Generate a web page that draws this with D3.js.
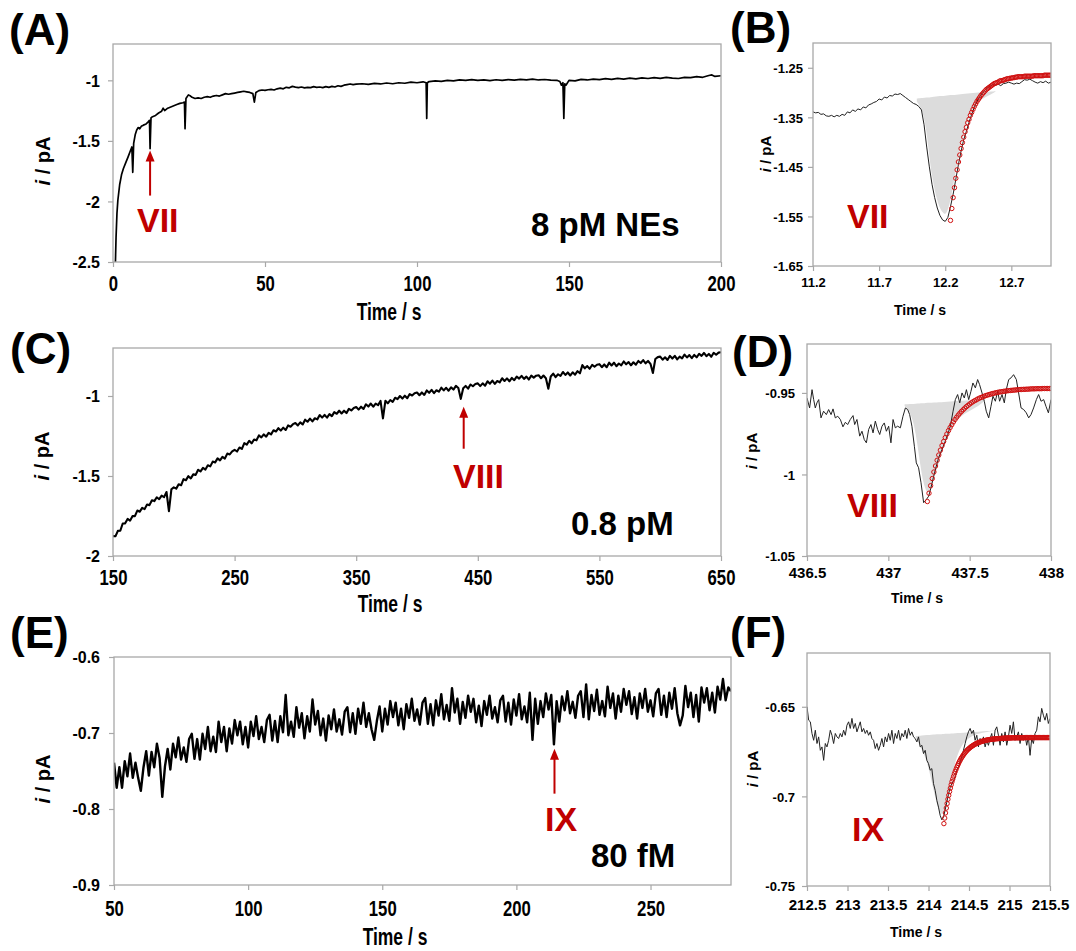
<!DOCTYPE html>
<html>
<head>
<meta charset="utf-8">
<script src="https://cdn.jsdelivr.net/npm/d3@7/dist/d3.min.js"></script>
<style>
  body { margin: 0; background: #fff; }
  svg text { font-family: "Liberation Sans", Arial, sans-serif; font-weight: bold; }
</style>
</head>
<body>
<svg id="fig" width="1076" height="951"></svg>
<script>

// ---- data (current in pA, time in s) ----

// (A) 8 pM NEs, full trace
var traceA = [[0.8,-2.5],[1.0,-2.3],[1.3,-2.1],[1.6,-1.99],[2.2,-1.86],[2.8,-1.78],[3.4,-1.73],[4.2,-1.68],[5.0,-1.63],[5.6,-1.59],
  [6.2,-1.55],[6.5,-1.76],[6.8,-1.52],[7.3,-1.45],[7.8,-1.41],[8.3,-1.39],[8.8,-1.40],[9.3,-1.38],[10,-1.37],[10.9,-1.36],
  [11.5,-1.345],[12.0,-1.33],[12.2,-1.565],[12.5,-1.31],[13,-1.30],[14,-1.29],[15,-1.27],[16,-1.255],[16.5,-1.23],[17,-1.25],
  [18,-1.23],[19,-1.22],[20,-1.21],[21,-1.20],[22,-1.19],[23,-1.185],[23.5,-1.18],[23.7,-1.40],[24,-1.15],[24.8,-1.12],
  [25.5,-1.13],[26,-1.14],[27,-1.15],[28,-1.145],[29,-1.15],[30,-1.14],[31,-1.135],[32,-1.14],[33,-1.13],[34,-1.125],
  [35,-1.13],[36,-1.12],[37,-1.11],[38,-1.115],[39,-1.11],[40,-1.105],[41,-1.10],[42,-1.095],[43,-1.09],[44,-1.095],
  [45,-1.10],[46,-1.11],[46.5,-1.18],[47,-1.10],[48,-1.085],[49,-1.08],[50,-1.083],[51,-1.078],[52,-1.075],[53,-1.08],
  [54,-1.07],[55,-1.065],[56,-1.07],[57,-1.058],[58,-1.062],[59,-1.05],[60,-1.056],[61,-1.06],[62,-1.055],[63,-1.062],
  [64,-1.058],[65,-1.06],[66,-1.052],[67,-1.058],[68,-1.055],[69,-1.06],[70,-1.052],[71,-1.058],[72,-1.05],[73,-1.055],
  [74,-1.045],[75,-1.05],[76,-1.04],[77,-1.035],[78,-1.03],[79,-1.036],[80,-1.032],[82,-1.028],[84,-1.034],[86,-1.025],
  [88,-1.03],[90,-1.022],[92,-1.028],[94,-1.02],[96,-1.024],[98,-1.015],[100,-1.02],[102,-1.012],[103,-1.02],[103.2,-1.315],
  [103.4,-1.02],[104,-1.01],[106,-1.004],[108,-1.008],[110,-1.0],[112,-1.004],[114,-0.996],[116,-1.0],[118,-0.994],[120,-1.0],
  [122,-0.996],[124,-1.002],[126,-0.995],[128,-1.0],[130,-0.994],[132,-0.998],[134,-0.992],[136,-0.996],[138,-0.99],[140,-0.997],
  [142,-0.993],[144,-0.998],[146,-1.0],[147,-1.01],[147.5,-1.04],[148,-1.02],[148.3,-1.315],[148.6,-1.03],[149,-1.04],[150,-1.0],
  [152,-1.004],[154,-0.992],[156,-0.997],[158,-0.99],[160,-0.994],[162,-0.986],[164,-0.992],[166,-0.984],[168,-0.99],[170,-0.982],
  [172,-0.988],[174,-0.98],[176,-0.985],[178,-0.978],[180,-0.984],[182,-0.976],[184,-0.982],[186,-0.985],[188,-0.975],[190,-0.978],
  [192,-0.97],[194,-0.975],[196,-0.96],[197,-0.955],[198,-0.968],[200,-0.962]];

// (B) zoom on event VII
var traceB = [[11.20,-1.339],[11.22,-1.341],[11.24,-1.340],[11.26,-1.344],[11.28,-1.343],[11.30,-1.347],[11.32,-1.348],[11.34,-1.346],
  [11.36,-1.349],[11.38,-1.346],[11.40,-1.348],[11.42,-1.344],[11.44,-1.346],[11.46,-1.339],[11.48,-1.341],[11.50,-1.335],
  [11.52,-1.338],[11.54,-1.333],[11.56,-1.335],[11.58,-1.329],[11.60,-1.331],[11.62,-1.325],[11.64,-1.323],[11.66,-1.320],
  [11.68,-1.318],[11.70,-1.313],[11.72,-1.315],[11.74,-1.309],[11.76,-1.311],[11.78,-1.306],[11.80,-1.307],[11.82,-1.303],
  [11.84,-1.304],[11.86,-1.302],[11.88,-1.306],[11.90,-1.310],[11.92,-1.314],[11.94,-1.318],[11.96,-1.322],[11.98,-1.324],
  [12.00,-1.328],[12.02,-1.335],[12.04,-1.365],[12.06,-1.410],[12.08,-1.450],[12.10,-1.485],[12.12,-1.512],[12.14,-1.533],
  [12.16,-1.548],[12.18,-1.557],[12.20,-1.560],[12.22,-1.552],[12.24,-1.530],[12.26,-1.505],[12.28,-1.475],[12.30,-1.445],
  [12.32,-1.418],[12.34,-1.395],[12.36,-1.378],[12.38,-1.360],[12.40,-1.344],[12.42,-1.330],[12.44,-1.318],[12.46,-1.309],
  [12.48,-1.301],[12.50,-1.296],[12.52,-1.290],[12.54,-1.287],[12.56,-1.284],[12.58,-1.285],[12.60,-1.283],[12.62,-1.286],
  [12.64,-1.282],[12.66,-1.281],[12.68,-1.279],[12.70,-1.281],[12.72,-1.283],[12.74,-1.281],[12.76,-1.282],[12.78,-1.278],
  [12.80,-1.274],[12.82,-1.275],[12.84,-1.273],[12.86,-1.276],[12.88,-1.279],[12.90,-1.281],[12.92,-1.278],[12.94,-1.280],
  [12.96,-1.277],[12.98,-1.281],[13.00,-1.279]];
// shaded peak: [t, upper, lower]
var shadeB = [[11.985,-1.312,-1.318],[12.03,-1.311,-1.335],[12.06,-1.310,-1.38],[12.08,-1.310,-1.43],[12.10,-1.309,-1.47],
  [12.13,-1.308,-1.51],[12.16,-1.307,-1.535],[12.19,-1.307,-1.545],[12.21,-1.306,-1.545],[12.24,-1.305,-1.52],[12.27,-1.305,-1.47],
  [12.30,-1.304,-1.43],[12.33,-1.303,-1.39],[12.37,-1.302,-1.355],[12.41,-1.301,-1.33],[12.45,-1.300,-1.318],[12.50,-1.299,-1.31],
  [12.55,-1.298,-1.303],[12.58,-1.297,-1.298]];
// fitted decay, sampled every 0.01 s from 12.24 s
var fitBStart = 12.24, fitBStep = 0.01;
var fitB = [-1.558,-1.534,-1.512,-1.492,-1.473,-1.456,-1.440,-1.426,-1.413,-1.401,
  -1.390,-1.379,-1.370,-1.361,-1.354,-1.346,-1.340,-1.334,-1.328,-1.323,
  -1.318,-1.314,-1.310,-1.306,-1.303,-1.300,-1.297,-1.294,-1.292,-1.290,
  -1.288,-1.286,-1.284,-1.282,-1.281,-1.280,-1.279,-1.277,-1.276,-1.276,
  -1.275,-1.274,-1.273,-1.272,-1.272,-1.271,-1.271,-1.270,-1.270,-1.269,
  -1.269,-1.268,-1.268,-1.268,-1.268,-1.268,-1.267,-1.267,-1.267,-1.267,
  -1.267,-1.267,-1.267,-1.266,-1.266,-1.266,-1.266,-1.266,-1.266,-1.266,
  -1.266,-1.265,-1.265,-1.265,-1.265,-1.265,-1.265];

// (C) 0.8 pM, sampled every 2 s from 150 s
var traceCStart = 150, traceCStep = 2;
var traceC = [-1.876,-1.877,-1.843,-1.842,-1.797, -1.796,-1.768,-1.779,-1.751,-1.751,
  -1.716,-1.723,-1.699,-1.707,-1.678, -1.682,-1.652,-1.657,-1.633,-1.645,
  -1.623,-1.632,-1.600,-1.720,-1.583, -1.571,-1.579,-1.552,-1.558,-1.520,
  -1.526,-1.501,-1.515,-1.490,-1.493, -1.461,-1.471,-1.449,-1.460,-1.433,
  -1.440,-1.410,-1.415,-1.390,-1.402, -1.380,-1.391,-1.360,-1.365,-1.346,
  -1.336,-1.347,-1.322,-1.331,-1.295, -1.304,-1.280,-1.296,-1.272,-1.277,
  -1.246,-1.259,-1.240,-1.254,-1.230, -1.240,-1.214,-1.222,-1.201,-1.216,
  -1.198,-1.212,-1.184,-1.192,-1.176, -1.169,-1.184,-1.165,-1.178,-1.148,
  -1.161,-1.141,-1.159,-1.139,-1.146, -1.119,-1.135,-1.118,-1.135,-1.113,
  -1.126,-1.101,-1.111,-1.092,-1.109, -1.092,-1.107,-1.080,-1.090,-1.075,
  -1.069,-1.085,-1.067,-1.081,-1.052, -1.066,-1.047,-1.067,-1.048,-1.057,
  -1.031,-1.140,-1.030,-1.046,-1.025, -1.037,-1.011,-1.020,-1.000,-1.016,
  -0.998,-1.014,-0.988,-0.997,-0.983, -0.978,-0.995,-0.978,-0.993,-0.965,
  -0.980,-0.962,-0.982,-0.964,-0.973, -0.948,-0.965,-0.949,-0.967,-0.946,
  -0.960,-0.937,-0.950,-1.018,-0.952, -0.937,-0.954,-0.928,-0.939,-0.925,
  -0.921,-0.938,-0.921,-0.936,-0.908, -0.923,-0.904,-0.924,-0.906,-0.915,
  -0.889,-0.906,-0.890,-0.908,-0.887, -0.901,-0.879,-0.891,-0.874,-0.893,
  -0.879,-0.897,-0.873,-0.885,-0.873, -0.870,-0.889,-0.872,-0.889,-0.955,
  -0.878,-0.860,-0.882,-0.864,-0.875, -0.850,-0.868,-0.853,-0.872,-0.852,
  -0.867,-0.845,-0.858,-0.807,-0.827, -0.813,-0.830,-0.806,-0.817,-0.805,
  -0.801,-0.820,-0.803,-0.820,-0.792, -0.809,-0.792,-0.814,-0.797,-0.808,
  -0.784,-0.802,-0.788,-0.808,-0.789, -0.804,-0.781,-0.794,-0.776,-0.796,
  -0.781,-0.799,-0.856,-0.769,-0.757, -0.754,-0.773,-0.758,-0.775,-0.749,
  -0.766,-0.749,-0.771,-0.754,-0.765, -0.741,-0.759,-0.744,-0.763,-0.743,
  -0.758,-0.736,-0.749,-0.731,-0.751, -0.737,-0.755,-0.730,-0.742,-0.729,
  -0.726];

// (D) zoom on event VIII
var traceD = [[436.500,-0.9531],[436.516,-0.9592],[436.531,-0.9480],[436.541,-0.9541],[436.551,-0.9592],[436.561,-0.9561],
  [436.572,-0.9541],[436.586,-0.9653],[436.602,-0.9612],[436.619,-0.9633],[436.633,-0.9602],[436.648,-0.9633],[436.660,-0.9598],
  [436.674,-0.9653],[436.689,-0.9643],[436.705,-0.9663],[436.721,-0.9708],[436.736,-0.9680],[436.750,-0.9694],[436.766,-0.9663],
  [436.783,-0.9639],[436.793,-0.9694],[436.807,-0.9663],[436.824,-0.9765],[436.838,-0.9735],[436.852,-0.9786],[436.865,-0.9806],
  [436.879,-0.9724],[436.893,-0.9694],[436.906,-0.9745],[436.920,-0.9673],[436.934,-0.9724],[436.947,-0.9755],[436.961,-0.9704],
  [436.975,-0.9684],[436.988,-0.9735],[437.002,-0.9704],[437.016,-0.9806],[437.029,-0.9663],[437.043,-0.9714],[437.057,-0.9704],
  [437.074,-0.9714],[437.090,-0.9643],[437.105,-0.9592],[437.119,-0.9602],[437.131,-0.9633],[437.145,-0.9704],[437.160,-0.9827],
  [437.172,-0.9929],[437.186,-0.9959],[437.201,-1.0051],[437.217,-1.0173],[437.234,-1.0153],[437.248,-1.0133],[437.262,-1.0082],
  [437.279,-1.0010],[437.295,-0.9949],[437.309,-0.9898],[437.330,-0.9847],[437.350,-0.9796],[437.365,-0.9755],[437.381,-0.9704],
  [437.398,-0.9612],[437.412,-0.9541],[437.426,-0.9510],[437.439,-0.9561],[437.453,-0.9500],[437.467,-0.9531],[437.480,-0.9480],
  [437.494,-0.9541],[437.508,-0.9490],[437.520,-0.9439],[437.535,-0.9469],[437.549,-0.9418],[437.561,-0.9449],[437.576,-0.9500],
  [437.590,-0.9551],[437.602,-0.9612],[437.617,-0.9653],[437.631,-0.9582],[437.643,-0.9520],[437.658,-0.9551],[437.672,-0.9490],
  [437.684,-0.9551],[437.699,-0.9510],[437.713,-0.9561],[437.725,-0.9480],[437.740,-0.9418],[437.754,-0.9408],[437.770,-0.9388],
  [437.787,-0.9418],[437.801,-0.9500],[437.816,-0.9592],[437.832,-0.9602],[437.848,-0.9622],[437.863,-0.9653],[437.877,-0.9633],
  [437.893,-0.9592],[437.910,-0.9541],[437.924,-0.9510],[437.939,-0.9551],[437.955,-0.9541],[437.969,-0.9582],[437.984,-0.9622],
  [438.000,-0.9541]];
var shadeD = [[437.10,-0.9570,-0.958],[437.14,-0.9568,-0.962],[437.17,-0.9566,-0.975],[437.19,-0.9565,-0.990],
  [437.21,-0.9564,-1.003],[437.23,-0.9562,-1.010],[437.25,-0.9561,-1.012],[437.28,-0.9559,-1.003],[437.31,-0.9557,-0.993],
  [437.34,-0.9555,-0.983],[437.38,-0.9553,-0.973],[437.42,-0.9550,-0.966],[437.48,-0.9547,-0.962],[437.54,-0.9544,-0.959],
  [437.59,-0.9540,-0.955]];
var fitDStart = 437.24, fitDStep = 0.01;
var fitD = [-1.0166,-1.0115,-1.0069,-1.0025,-0.9985,-0.9948,-0.9913,-0.9881,-0.9851,-0.9823,
  -0.9798,-0.9774,-0.9752,-0.9731,-0.9712,-0.9695,-0.9678,-0.9663,-0.9649,-0.9636,
  -0.9624,-0.9613,-0.9603,-0.9593,-0.9584,-0.9576,-0.9568,-0.9561,-0.9554,-0.9548,
  -0.9543,-0.9537,-0.9532,-0.9528,-0.9524,-0.9520,-0.9516,-0.9513,-0.9510,-0.9507,
  -0.9504,-0.9502,-0.9499,-0.9497,-0.9495,-0.9493,-0.9492,-0.9490,-0.9489,-0.9487,
  -0.9486,-0.9485,-0.9484,-0.9483,-0.9482,-0.9481,-0.9480,-0.9479,-0.9479,-0.9478,
  -0.9478,-0.9477,-0.9477,-0.9476,-0.9475,-0.9475,-0.9475,-0.9474,-0.9474,-0.9474,
  -0.9474,-0.9473,-0.9473,-0.9473,-0.9473,-0.9473,-0.9473];

// (E) 80 fM, sampled every 1 s from 50 s
var traceEStart = 50, traceEStep = 1;
var traceE = [-0.739,-0.772,-0.745,-0.772,-0.737, -0.757,-0.727,-0.759,-0.739,-0.759,
  -0.776,-0.745,-0.724,-0.756,-0.725, -0.745,-0.714,-0.733,-0.784,-0.744,
  -0.721,-0.748,-0.714,-0.732,-0.706, -0.735,-0.719,-0.738,-0.708,-0.701,
  -0.734,-0.708,-0.735,-0.701,-0.721, -0.692,-0.724,-0.705,-0.725,-0.685,
  -0.712,-0.692,-0.724,-0.694,-0.714, -0.683,-0.703,-0.685,-0.715,-0.692,
  -0.719,-0.685,-0.704,-0.678,-0.708, -0.692,-0.712,-0.683,-0.676,-0.710,
  -0.684,-0.712,-0.678,-0.699,-0.650, -0.703,-0.685,-0.705,-0.666,-0.693,
  -0.674,-0.707,-0.678,-0.698,-0.656, -0.689,-0.671,-0.703,-0.681,-0.710,
  -0.677,-0.695,-0.669,-0.698,-0.682, -0.702,-0.672,-0.666,-0.699,-0.674,
  -0.701,-0.668,-0.688,-0.660,-0.692, -0.674,-0.695,-0.709,-0.684,-0.665,
  -0.698,-0.668,-0.689,-0.658,-0.679, -0.660,-0.690,-0.668,-0.695,-0.662,
  -0.680,-0.655,-0.684,-0.669,-0.689, -0.660,-0.654,-0.688,-0.662,-0.690,
  -0.657,-0.677,-0.649,-0.682,-0.663, -0.684,-0.641,-0.673,-0.655,-0.688,
  -0.659,-0.680,-0.651,-0.672,-0.655, -0.686,-0.664,-0.691,-0.658,-0.676,
  -0.651,-0.681,-0.666,-0.686,-0.657, -0.651,-0.685,-0.660,-0.689,-0.656,
  -0.677,-0.649,-0.682,-0.665,-0.686, -0.647,-0.709,-0.655,-0.688,-0.658,
  -0.679,-0.648,-0.669,-0.650,-0.715, -0.658,-0.685,-0.652,-0.670,-0.645,
  -0.674,-0.659,-0.680,-0.651,-0.645, -0.679,-0.636,-0.682,-0.650,-0.671,
  -0.643,-0.676,-0.658,-0.678,-0.639, -0.667,-0.648,-0.681,-0.651,-0.672,
  -0.642,-0.663,-0.645,-0.675,-0.653, -0.681,-0.648,-0.667,-0.642,-0.672,
  -0.657,-0.678,-0.648,-0.642,-0.676, -0.651,-0.679,-0.647,-0.668,-0.641,
  -0.674,-0.690,-0.677,-0.638,-0.666, -0.647,-0.679,-0.650,-0.685,-0.640,
  -0.660,-0.641,-0.670,-0.647,-0.673, -0.639,-0.656,-0.629,-0.657,-0.640,
  -0.645];

// (F) zoom on event IX, sampled every 0.02055 s from 212.5 s
var traceFStart = 212.5, traceFStep = 0.02055;
var traceF = [-0.6500,-0.6575,-0.6584,-0.6649,-0.6687,-0.6631,-0.6705,-0.6668,-0.6743,-0.6724,
  -0.6799,-0.6705,-0.6724,-0.6687,-0.6631,-0.6659,-0.6705,-0.6649,-0.6668,-0.6677,
  -0.6649,-0.6668,-0.6631,-0.6659,-0.6603,-0.6584,-0.6621,-0.6565,-0.6621,-0.6593,
  -0.6640,-0.6612,-0.6584,-0.6640,-0.6621,-0.6649,-0.6631,-0.6659,-0.6640,-0.6677,
  -0.6687,-0.6733,-0.6705,-0.6743,-0.6715,-0.6677,-0.6724,-0.6668,-0.6696,-0.6649,
  -0.6687,-0.6631,-0.6705,-0.6649,-0.6677,-0.6631,-0.6687,-0.6649,-0.6668,-0.6631,
  -0.6677,-0.6621,-0.6659,-0.6640,-0.6668,-0.6677,-0.6696,-0.6668,-0.6724,-0.6715,
  -0.6761,-0.6743,-0.6799,-0.6817,-0.6854,-0.6845,-0.6929,-0.6966,-0.7022,-0.7060,
  -0.7106,-0.7131,-0.7116,-0.7075,-0.7032,-0.6989,-0.6951,-0.6929,-0.6914,-0.6892,
  -0.6854,-0.6836,-0.6808,-0.6780,-0.6743,-0.6705,-0.6668,-0.6640,-0.6621,-0.6649,
  -0.6631,-0.6687,-0.6659,-0.6724,-0.6677,-0.6705,-0.6668,-0.6724,-0.6687,-0.6715,
  -0.6677,-0.6649,-0.6715,-0.6631,-0.6612,-0.6659,-0.6715,-0.6649,-0.6696,-0.6640,
  -0.6715,-0.6668,-0.6603,-0.6649,-0.6584,-0.6687,-0.6668,-0.6640,-0.6705,-0.6649,
  -0.6687,-0.6659,-0.6715,-0.6668,-0.6771,-0.6677,-0.6705,-0.6649,-0.6631,-0.6556,
  -0.6584,-0.6509,-0.6547,-0.6575,-0.6537,-0.6593,-0.6565];
var shadeF = [[213.84,-0.6664,-0.6668],[213.92,-0.6660,-0.6740],[213.98,-0.6658,-0.6800],[214.04,-0.6656,-0.6920],
  [214.08,-0.6655,-0.7000],[214.12,-0.6654,-0.7070],[214.16,-0.6653,-0.7100],[214.19,-0.6652,-0.7100],[214.22,-0.6651,-0.7040],
  [214.26,-0.6650,-0.6950],[214.30,-0.6649,-0.6860],[214.36,-0.6647,-0.6760],[214.43,-0.6645,-0.6700],[214.52,-0.6642,-0.6665],
  [214.62,-0.6639,-0.6650],[214.72,-0.6636,-0.6640],[214.84,-0.6631,-0.6633]];
var fitFStart = 214.19, fitFStep = 0.01;
var fitF = [-0.7152,-0.7121,-0.7092,-0.7065,-0.7040,-0.7016,-0.6994,-0.6973,-0.6954,-0.6935,
  -0.6918,-0.6903,-0.6888,-0.6874,-0.6861,-0.6849,-0.6837,-0.6827,-0.6817,-0.6807,
  -0.6799,-0.6790,-0.6783,-0.6776,-0.6769,-0.6763,-0.6757,-0.6751,-0.6746,-0.6741,
  -0.6737,-0.6733,-0.6729,-0.6725,-0.6722,-0.6719,-0.6716,-0.6713,-0.6710,-0.6708,
  -0.6705,-0.6703,-0.6701,-0.6699,-0.6698,-0.6696,-0.6694,-0.6693,-0.6692,-0.6690,
  -0.6689,-0.6688,-0.6687,-0.6686,-0.6685,-0.6684,-0.6683,-0.6683,-0.6682,-0.6681,
  -0.6681,-0.6680,-0.6680,-0.6679,-0.6679,-0.6678,-0.6678,-0.6678,-0.6677,-0.6677,
  -0.6677,-0.6676,-0.6676,-0.6676,-0.6675,-0.6675,-0.6675,-0.6675,-0.6674,-0.6674,
  -0.6674,-0.6674,-0.6674,-0.6674,-0.6673,-0.6673,-0.6673,-0.6673,-0.6673,-0.6673,
  -0.6673,-0.6673,-0.6673,-0.6673,-0.6673,-0.6673,-0.6673,-0.6673,-0.6673,-0.6673,
  -0.6672,-0.6672,-0.6672,-0.6672,-0.6672,-0.6672,-0.6672,-0.6672,-0.6672,-0.6672,
  -0.6672,-0.6672,-0.6672,-0.6672,-0.6672,-0.6672,-0.6672,-0.6672,-0.6672,-0.6672,
  -0.6672,-0.6672,-0.6672,-0.6672,-0.6672,-0.6672,-0.6672,-0.6672,-0.6672,-0.6672,
  -0.6672,-0.6672];

// tick values
var ticksAx = [0, 50, 100, 150, 200],        ticksAy = [-2.5, -2, -1.5, -1];
var ticksBx = [11.2, 11.7, 12.2, 12.7],       ticksBy = [-1.65, -1.55, -1.45, -1.35, -1.25];
var ticksCx = [150, 250, 350, 450, 550, 650], ticksCy = [-2, -1.5, -1];
var ticksDx = [436.5, 437, 437.5, 438],       ticksDy = [-1.05, -1, -0.95];
var ticksEx = [50, 100, 150, 200, 250],       ticksEy = [-0.9, -0.8, -0.7, -0.6];
var ticksFx = [212.5, 213, 213.5, 214, 214.5, 215, 215.5], ticksFy = [-0.75, -0.7, -0.65];

// ---- drawing ----

var RED = '#c00000';
var FRAME = '#a8a8a8';

var svg = d3.select('#fig');

function sampled(values, start, step) {
  return values.map(function (v, k) { return [start + k * step, v]; });
}

function drawPanel(p) {

  var x = d3.scaleLinear().domain(p.xDomain).range([p.left, p.right]);
  var y = d3.scaleLinear().domain(p.yDomain).range([p.bottom, p.top]);

  var g = svg.append('g');

  g.append('clipPath')
      .attr('id', 'clip-' + p.name)
    .append('rect')
      .attr('x', p.left)
      .attr('y', p.top)
      .attr('width', p.right - p.left)
      .attr('height', p.bottom - p.top);

  // axes (left column text is squeezed horizontally like the source)
  var xa = g.append('g')
      .attr('transform', 'translate(0,' + p.bottom + ')')
      .call(d3.axisBottom(x).tickValues(p.xTicks).tickSize(5).tickFormat(function (d) { return String(d); }));
  xa.select('.domain').remove();
  xa.selectAll('line').attr('stroke', FRAME).attr('stroke-width', 1.2);
  xa.selectAll('text')
      .attr('y', p.xLabelBase - p.bottom)
      .attr('dy', null)
      .attr('fill', '#000')
      .attr('transform', 'scale(' + p.squeeze + ',1)')
      .style('font-size', p.xFont + 'px');

  var ya = g.append('g')
      .attr('transform', 'translate(' + p.left + ',0)')
      .call(d3.axisLeft(y).tickValues(p.yTicks).tickSize(5).tickFormat(function (d) { return String(d); }));
  ya.select('.domain').remove();
  ya.selectAll('line').attr('stroke', FRAME).attr('stroke-width', 1.2);
  ya.selectAll('text')
      .attr('x', p.yLabelRight - p.left)
      .attr('dy', '0.36em')
      .attr('fill', '#000')
      .style('font-size', p.yFont + 'px');

  // axis titles
  g.append('text')
      .attr('transform', 'translate(' + p.xTitle[0] + ',' + p.xTitle[1] + ') scale(' + p.squeeze + ',1)')
      .attr('text-anchor', 'middle')
      .style('font-size', p.titleFont + 'px')
      .text('Time / s');

  var yt = g.append('text')
      .attr('transform', 'translate(' + p.yTitle[0] + ',' + p.yTitle[1] + ') rotate(-90)')
      .attr('text-anchor', 'middle')
      .attr('dy', '0.35em')
      .style('font-size', p.yTitleFont + 'px');
  yt.append('tspan').style('font-style', 'italic').text('i');
  yt.append('tspan').text(' / pA');

  var plot = g.append('g').attr('clip-path', 'url(#clip-' + p.name + ')');

  // shaded peak area
  if (p.shade) {
    plot.append('path')
        .datum(p.shade)
        .attr('fill', '#dcdcdc')
        .attr('d', d3.area()
          .x(function (d) { return x(d[0]); })
          .y0(function (d) { return y(d[1]); })
          .y1(function (d) { return y(d[2]); })
          .curve(d3.curveBasis));
  }

  // current trace
  plot.append('path')
      .datum(p.trace)
      .attr('fill', 'none')
      .attr('stroke', p.traceColor)
      .attr('stroke-width', p.traceWidth)
      .attr('stroke-linejoin', 'round')
      .attr('d', d3.line()
        .x(function (d) { return x(d[0]); })
        .y(function (d) { return y(d[1]); }));

  // fitted decay as open circles
  if (p.fit) {
    plot.selectAll('circle.fit')
        .data(p.fit)
        .enter()
      .append('circle')
        .attr('class', 'fit')
        .attr('cx', function (d) { return x(d[0]); })
        .attr('cy', function (d) { return y(d[1]); })
        .attr('r', 2.2)
        .attr('fill', 'none')
        .attr('stroke', '#d01010')
        .attr('stroke-width', 1);
  }

  // frame
  g.append('rect')
      .attr('x', p.left)
      .attr('y', p.top)
      .attr('width', p.right - p.left)
      .attr('height', p.bottom - p.top)
      .attr('fill', 'none')
      .attr('stroke', FRAME)
      .attr('stroke-width', 1.3);

  // event arrow
  if (p.arrow) {
    var ax = x(p.arrow.t), tip = y(p.arrow.tipI), base = tip + p.arrow.len;
    g.append('line')
        .attr('x1', ax).attr('x2', ax)
        .attr('y1', base).attr('y2', tip + 8)
        .attr('stroke', RED)
        .attr('stroke-width', 2);
    g.append('path')
        .attr('d', 'M' + ax + ',' + tip + 'L' + (ax - 4.5) + ',' + (tip + 11) + 'L' + (ax + 4.5) + ',' + (tip + 11) + 'Z')
        .attr('fill', RED);
  }

  // event label and concentration
  g.append('text')
      .attr('x', p.event[0])
      .attr('y', p.event[1])
      .attr('fill', RED)
      .style('font-size', '34px')
      .text(p.event[2]);

  if (p.conc) {
    g.append('text')
        .attr('x', p.conc[0])
        .attr('y', p.conc[1])
        .style('font-size', '33px')
        .text(p.conc[2]);
  }

  // panel letter
  svg.append('text')
      .attr('x', p.letter[0])
      .attr('y', p.letter[1])
      .style('font-size', '44px')
      .text(p.letter[2]);
}

var left = { squeeze: 0.76, xFont: 22, yFont: 16, titleFont: 23, yTitleFont: 20, traceColor: '#000', yLabelRight: 100 };
var right = { squeeze: 1, xFont: 14, yFont: 13, titleFont: 14, yTitleFont: 15, traceColor: '#222', traceWidth: 1 };

drawPanel(Object.assign({}, left, {
  name: 'A', left: 113, right: 721, top: 44, bottom: 262,
  xDomain: [0, 200], yDomain: [-2.5, -0.7], xTicks: ticksAx, yTicks: ticksAy,
  xLabelBase: 291, xTitle: [389, 320], yTitle: [43, 161],
  trace: traceA, traceWidth: 1.7,
  arrow: { t: 12.2, tipI: -1.58, len: 45 },
  event: [137, 232, 'VII'], conc: [531, 236, '8 pM NEs'], letter: [9, 45, '(A)']
}));

drawPanel(Object.assign({}, right, {
  name: 'B', left: 813, right: 1051, top: 43, bottom: 266,
  xDomain: [11.2, 13.0], yDomain: [-1.65, -1.2], xTicks: ticksBx, yTicks: ticksBy,
  xFont: 13, xLabelBase: 287, yLabelRight: 803, xTitle: [920, 315], yTitle: [766, 154],
  trace: traceB, shade: shadeB, fit: sampled(fitB, fitBStart, fitBStep),
  event: [847, 228, 'VII'], letter: [730, 43, '(B)']
}));

drawPanel(Object.assign({}, left, {
  name: 'C', left: 113, right: 721, top: 348, bottom: 556,
  xDomain: [150, 650], yDomain: [-2, -0.7], xTicks: ticksCx, yTicks: ticksCy,
  xLabelBase: 585, xTitle: [390, 612], yTitle: [42, 456],
  trace: sampled(traceC, traceCStart, traceCStep), traceWidth: 2.1,
  arrow: { t: 438.4, tipI: -1.067, len: 42 },
  event: [453, 488, 'VIII'], conc: [571, 535, '0.8 pM'], letter: [10, 364, '(C)']
}));

drawPanel(Object.assign({}, right, {
  name: 'D', left: 807, right: 1051, top: 344, bottom: 556,
  xDomain: [436.5, 438], yDomain: [-1.05, -0.92], xTicks: ticksDx, yTicks: ticksDy,
  xFont: 15, xLabelBase: 578, yLabelRight: 795, xTitle: [917, 603], yTitle: [752, 451],
  trace: traceD, shade: shadeD, fit: sampled(fitD, fitDStart, fitDStep),
  event: [847, 517, 'VIII'], letter: [732, 367, '(D)']
}));

drawPanel(Object.assign({}, left, {
  name: 'E', left: 114, right: 731, top: 657, bottom: 885,
  xDomain: [50, 280], yDomain: [-0.9, -0.6], xTicks: ticksEx, yTicks: ticksEy,
  xLabelBase: 916, xTitle: [395, 945], yTitle: [43, 779],
  trace: sampled(traceE, traceEStart, traceEStep), traceWidth: 2.4,
  arrow: { t: 214.2, tipI: -0.7206, len: 45 },
  event: [545, 831, 'IX'], conc: [591, 867, '80 fM'], letter: [10, 648, '(E)']
}));

drawPanel(Object.assign({}, right, {
  name: 'F', left: 807, right: 1050, top: 653, bottom: 886,
  xDomain: [212.5, 215.5], yDomain: [-0.75, -0.62], xTicks: ticksFx, yTicks: ticksFy,
  xFont: 15, xLabelBase: 910, yLabelRight: 795, xTitle: [916, 937], yTitle: [753, 769],
  trace: sampled(traceF, traceFStart, traceFStep), shade: shadeF, fit: sampled(fitF, fitFStart, fitFStep),
  event: [852, 841, 'IX'], letter: [730, 648, '(F)']
}));

</script>
</body>
</html>
